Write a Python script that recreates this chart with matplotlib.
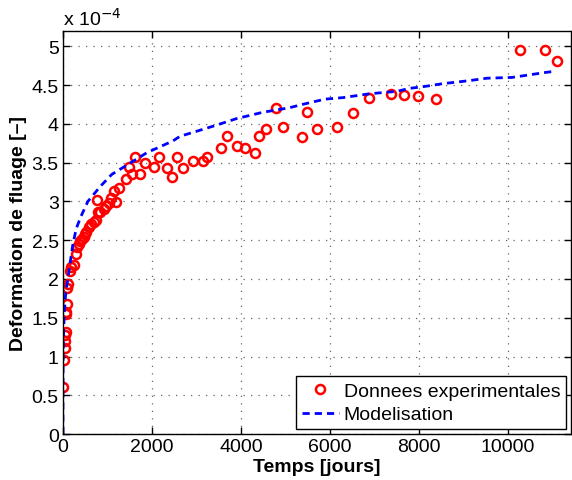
import numpy as np
import matplotlib
matplotlib.use('Agg')
import matplotlib.pyplot as plt

plt.rcParams['font.family'] = ['Liberation Sans', 'DejaVu Sans']

# mesures (temps en jours, deformation en 1e-4)
t_exp = [0, 22, 45, 45, 45, 67, 67, 67, 90, 90, 112, 157, 180, 247, 292, 315,
         360, 382, 427, 472, 494, 517, 584, 629, 697, 742, 787, 764, 831, 921,
         966, 1034, 1079, 1191, 1146, 1258, 1416, 1551, 1483, 1618, 1730, 1843,
         2045, 2157, 2337, 2449, 2562, 2697, 2921, 3146, 3236, 3551, 3685, 3910,
         4090, 4315, 4404, 4562, 4787, 4944, 5371, 5483, 5708, 6157, 6517, 6876,
         7371, 7663, 7978, 8382, 10270, 10831, 11101]
eps_exp = [0.61, 0.95, 1.11, 1.20, 1.28, 1.31, 1.55, 1.58, 1.68, 1.89, 1.93,
           2.10, 2.15, 2.18, 2.32, 2.41, 2.45, 2.49, 2.51, 2.54, 2.58, 2.60,
           2.67, 2.71, 2.73, 2.76, 2.86, 3.02, 2.87, 2.90, 2.94, 2.98, 3.04,
           2.99, 3.13, 3.18, 3.29, 3.35, 3.44, 3.58, 3.36, 3.49, 3.45, 3.58,
           3.43, 3.31, 3.58, 3.43, 3.52, 3.52, 3.57, 3.69, 3.85, 3.72, 3.69,
           3.62, 3.85, 3.93, 4.20, 3.96, 3.83, 4.15, 3.93, 3.96, 4.14, 4.34,
           4.39, 4.38, 4.36, 4.32, 4.96, 4.95, 4.81]

# modele
t_mod = [0, 1, 5, 15, 30, 60, 110, 160, 225, 300, 400, 560, 675, 850, 1100,
         1440, 1890, 2470, 2630, 3370, 3910, 4490, 5100, 5370, 5890, 6300,
         6900, 7500, 7800, 8090, 8540, 8850, 9150, 9530, 10090, 10450, 10790,
         11060]
eps_mod = [0, 0.6, 1.0, 1.3, 1.55, 1.8, 2.0, 2.2, 2.45, 2.65, 2.8, 3.0, 3.08,
           3.2, 3.35, 3.47, 3.63, 3.78, 3.84, 3.97, 4.07, 4.15, 4.21, 4.25,
           4.32, 4.34, 4.39, 4.42, 4.46, 4.48, 4.52, 4.54, 4.56, 4.59, 4.60,
           4.63, 4.66, 4.68]

fig = plt.figure(figsize=(5.72, 4.81), dpi=100)
ax = fig.add_axes([0.110, 0.0956, 0.888, 0.838])

ax.plot(t_exp, eps_exp, 'o', mfc='none', mec='red', ms=6.5, mew=1.8,
        label='Donnees experimentales')
ax.plot(t_mod, eps_mod, '--', color='blue', lw=2, dashes=(2.6, 1.8),
        label='Modelisation')

ax.set_xlim(0, 11420)
ax.set_ylim(0, 5.2)
ax.set_xticks(np.arange(0, 10001, 2000))
ax.set_yticks(np.arange(0, 5.01, 0.5))
ax.set_yticklabels(['0', '0.5', '1', '1.5', '2', '2.5', '3', '3.5', '4',
                    '4.5', '5'])
ax.tick_params(direction='in', top=True, right=True, length=5, width=1,
               labelsize=14, pad=3)
ax.grid(True, linestyle=(0, (1, 5)), color='#666666', lw=0.9)
for s in ax.spines.values():
    s.set_linewidth(1)

ax.set_xlabel('Temps [jours]', fontsize=14, fontweight='bold', labelpad=2)
ax.set_ylabel('Deformation de fluage [–]', fontsize=14, fontweight='bold',
              labelpad=3)
ax.text(0.0, 1.005, r'x 10$^{-4}$', transform=ax.transAxes, fontsize=14,
        ha='left', va='bottom')

leg = ax.legend(loc='lower right', fontsize=14, frameon=True, fancybox=False,
                edgecolor='black', framealpha=1, borderpad=0.3,
                labelspacing=0.3, handlelength=1.9, handletextpad=0.25,
                borderaxespad=0.25, numpoints=1)
leg.get_frame().set_linewidth(1)

fig.savefig('out.png', dpi=100)
